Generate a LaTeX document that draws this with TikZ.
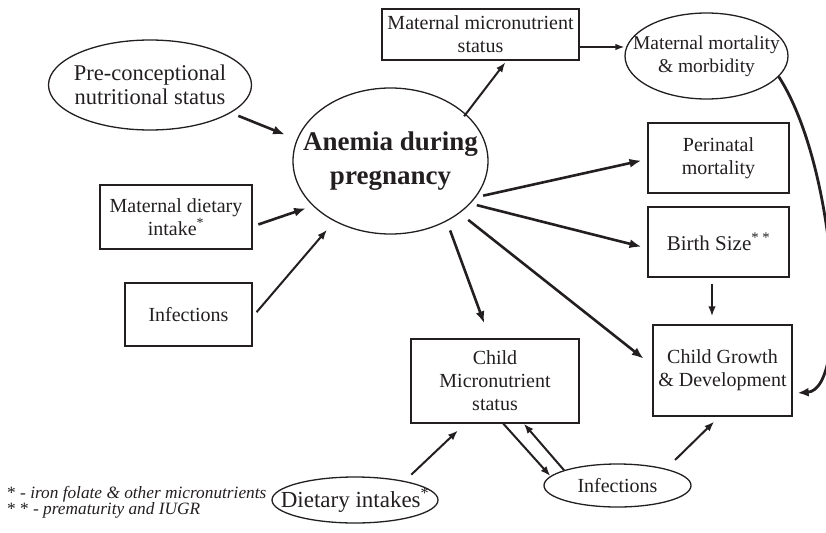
\documentclass[tikz,border=0pt]{standalone}
\usepackage{fontspec}
\setmainfont{Liberation Serif}
\usetikzlibrary{arrows.meta,shapes.geometric,calc}
\definecolor{ink}{RGB}{35,31,32}
\begin{document}
\begin{tikzpicture}[x=1pt,y=-1pt,
  every node/.style={text=ink, align=center, font=\fontsize{20}{23}\selectfont, inner sep=0pt},
  boxnode/.style={draw=ink, line width=1.3pt, rectangle},
  ellnode/.style={draw=ink, line width=1.3pt, ellipse, inner xsep=-40pt, inner ysep=0pt},
  bigarr/.style={draw=ink, line width=2.6pt, -{Latex[length=12pt,width=9pt]}},
  midarr/.style={draw=ink, line width=2pt, -{Latex[length=10pt,width=7.5pt]}},
  smallarr/.style={draw=ink, line width=1.4pt, -{Latex[length=9pt,width=6.5pt]}}]
\useasboundingbox (0,0) rectangle (826,532);
\clip (0,0) rectangle (826,532);

% nodes
\node[boxnode, minimum width=197pt, minimum height=51pt] (mms) at (480.5,34.5) {Maternal micronutrient\\status};
\node[ellnode, minimum width=163pt, minimum height=86pt, font=\fontsize{19.5}{23}\selectfont] (mmm) at (706.5,56) {Maternal mortality\\\& morbidity};
\node[ellnode, minimum width=203pt, minimum height=90pt, font=\fontsize{22.5}{24}\selectfont] (pre) at (150,85) {Pre-conceptional\\nutritional status};
\node[ellnode, minimum width=195pt, minimum height=146pt, font=\fontsize{27}{34}\selectfont\bfseries] (anemia) at (390.5,161) {Anemia during\\pregnancy};
\node[boxnode, minimum width=152pt, minimum height=64pt] (mdi) at (176,217) {Maternal dietary\\intake\textsuperscript{*}};
\node[boxnode, minimum width=127pt, minimum height=63pt] (inf1) at (188.5,314.5) {Infections};
\node[boxnode, minimum width=141pt, minimum height=70pt] (peri) at (718.5,158) {Perinatal\\mortality};
\node[boxnode, minimum width=141pt, minimum height=70pt, font=\fontsize{21}{23}\selectfont] (birth) at (718.5,242) {Birth Size\textsuperscript{* *}};
\node[boxnode, minimum width=139pt, minimum height=91pt] (cgd) at (722.5,370.5) {Child Growth\\\& Development};
\node[boxnode, minimum width=168pt, minimum height=84pt] (cms) at (495,381) {Child\\Micronutrient\\status};
\node[ellnode, minimum width=166pt, minimum height=46pt, font=\fontsize{23}{25}\selectfont] (diet) at (355,500) {Dietary intakes\textsuperscript{*}};
\node[ellnode, minimum width=147pt, minimum height=43pt] (inf2) at (617.5,485.5) {Infections};

\node[anchor=west, align=left, font=\fontsize{17.3}{16}\selectfont] (fn) at (7,502) {* - \textit{iron folate \& other micronutrients}\\* * - \textit{prematurity and IUGR}};

% connectors
\draw[bigarr, shorten <=8pt, shorten >=12.5pt] (pre.-19.6) -- (anemia.167.2);
\draw[bigarr, shorten <=6pt, shorten >=7pt] (mdi.-7) -- (anemia.-150.9);
\draw[midarr, shorten <=6pt, shorten >=11pt] (inf1.-2.1) -- (anemia.-133);
\draw[midarr, shorten <=-3pt, shorten >=2pt] (anemia.32.75) -- (mms.-45);
\draw[smallarr] ([yshift=-12.5pt]mms.east) -- ([yshift=-12.5pt]mms.east -| mmm.west);
\draw[bigarr, shorten <=7.4pt, shorten >=6pt] (anemia.-23.1) -- (peri.-179.25);
\draw[bigarr, shorten <=6.4pt, shorten >=6pt] (anemia.-28.6) -- (birth.-175.5);
\draw[midarr, shorten <=6pt, shorten >=8pt] ([xshift=-6.5pt]birth.south) -- ([xshift=-6.5pt]birth.south |- cgd.north);
\draw[bigarr, shorten <=10.8pt, shorten >=11pt] (anemia.-37.6) -- (cgd.176.8);
\draw[bigarr, shorten <=9.7pt, shorten >=16pt] (anemia.-47) -- (cms.97.4);
\draw[midarr, shorten <=9.2pt, shorten >=9.9pt] (diet.21.1) -- (cms.-125.75);
\draw[midarr] (cms.-79.2) -- (inf2.172.7);
\draw[midarr] (inf2.164.6) -- (cms.-56);
\draw[midarr, shorten <=12.6pt, shorten >=7pt] (inf2.19) -- (cgd.-94.9);
\draw[draw=ink, line width=2.8pt, -{Latex[length=11pt,width=9pt]}, shorten >=5pt] (mmm.-16.6) .. controls +(58,90) and +(58,-4) .. (cgd.-18.9);
\end{tikzpicture}
\end{document}
